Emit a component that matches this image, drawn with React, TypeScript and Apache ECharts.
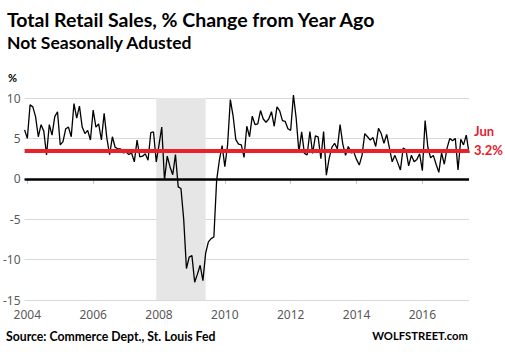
import React, { useEffect, useRef } from "react";
import * as echarts from "echarts";

// Monthly, Dec 2003 .. Jun 2017
const startYear = 2003;
const startMonth = 12;
const endYear = 2017;
const endMonth = 6;

const months: string[] = [];
for (let y = startYear, m = startMonth; y < endYear || (y === endYear && m <= endMonth); ) {
  months.push(`${y}-${m < 10 ? "0" + m : m}`);
  m++;
  if (m > 12) { m = 1; y++; }
}

// % change from year ago, not seasonally adjusted
const yoy2003to2007 = [
  6.05, // Dec 2003
  5.0, 9.15, 8.9, 7.7, 5.2, 6.7, 5.9, 2.95, 6.7, 5.4, 7.7, 8.3, // 2004
  4.2, 4.6, 6.2, 6.4, 5.2, 9.3, 7.5, 9.0, 6.4, 5.6, 6.0, 4.8, // 2005
  8.5, 6.4, 6.8, 4.8, 8.1, 5.0, 3.0, 5.2, 3.9, 3.7, 3.7, 3.2, // 2006
  3.3, 3.0, 3.2, 2.1, 4.8, 2.7, 2.8, 3.1, 2.3, 5.7, 5.8, 2.1, // 2007
];
const yoy2008to2011 = [
  4.2, 6.4, -0.15, 2.8, 1.5, 0.5, 3.0, -1.0, -1.2, -5.0, -11.1, -9.7, // 2008
  -9.5, -12.8, -11.8, -10.7, -12.6, -9.2, -7.8, -7.4, -7.2, -0.2, 2.3, 4.1, // 2009
  1.5, 4.2, 9.8, 7.8, 4.85, 4.3, 4.2, 2.65, 6.5, 5.2, 7.75, 6.7, // 2010
  6.8, 8.45, 7.4, 7.0, 7.4, 8.3, 6.5, 8.9, 8.4, 7.2, 7.1, 6.2, // 2011
];
const yoy2012to2017 = [
  6.0, 10.35, 7.5, 3.3, 5.8, 3.15, 2.95, 5.85, 3.15, 5.3, 5.2, 2.5, // 2012
  5.85, 0.45, 2.5, 3.9, 4.4, 3.7, 6.7, 4.3, 2.9, 4.0, 3.2, 3.3, // 2013
  2.4, 1.7, 2.9, 5.6, 5.2, 4.8, 5.1, 4.0, 6.25, 5.6, 4.4, 5.5, // 2014
  3.8, 2.1, 2.9, 2.0, 1.1, 3.8, 3.6, 1.6, 2.9, 2.1, 2.4, 3.1, // 2015
  1.0, 7.2, 3.9, 2.6, 2.9, 1.8, 0.8, 3.2, 1.8, 3.8, 5.0, 4.7, // 2016
  5.0, 1.1, 4.9, 4.2, 5.4, 3.2, // 2017
];
const retailYoY = [...yoy2003to2007, ...yoy2008to2011, ...yoy2012to2017];

const recession = ["2007-12", "2009-06"];
const latestLevel = 3.5;
const latestLabel = ["Jun", "3.2%"];
const yTicks = { min: -15, max: 10, interval: 5 };

const title = "Total Retail Sales, % Change from Year Ago";
const subtitle = "Not Seasonally Adusted";
const source = "Source: Commerce Dept., St. Louis Fed";
const brand = "WOLFSTREET.com";

const RED = "#e8212b";
const FONT = "Lato, 'Noto Sans', sans-serif";

function isTickMonth(v: string) {
  const y = parseInt(v.slice(0, 4), 10);
  return v.slice(5) === "01" && y % 2 === 0;
}

// pick a font size so the text spans about the reference width
function fitSize(text: string, targetWidth: number, base: number, lo: number, hi: number) {
  try {
    const c = document.createElement("canvas").getContext("2d");
    if (!c) return base;
    c.font = `bold ${base}px ${FONT}`;
    const w = c.measureText(text).width;
    if (!w) return base;
    const s = (base * targetWidth) / w;
    return Math.max(lo, Math.min(hi, Math.round(s * 4) / 4));
  } catch (e) {
    return base;
  }
}

export default function App() {
  const ref = useRef<HTMLDivElement>(null);
  useEffect(() => {
    if (!ref.current) return;
    const titleSize = fitSize(title, 370, 19, 17, 21);
    const subSize = fitSize(subtitle, 186, 17, 15, 19);
    const srcSize = fitSize(source, 211, 12.5, 11, 14);
    const brandSize = fitSize(brand, 95, 12.5, 11, 14);
    const chart = echarts.init(ref.current, undefined, { renderer: "svg" });
    chart.setOption({
      animation: false,
      backgroundColor: "#ffffff",
      grid: { left: 22, right: 36, top: 98, bottom: 60, containLabel: false },
      xAxis: {
        type: "category",
        data: months,
        boundaryGap: false,
        axisLine: { show: true, lineStyle: { color: "#b4c0d4", width: 1 } },
        axisTick: {
          show: true,
          length: 5,
          interval: (i: number, v: string) => isTickMonth(v),
          lineStyle: { color: "#b4c0d4" },
        },
        axisLabel: {
          interval: (i: number, v: string) => isTickMonth(v),
          formatter: (v: string) => v.slice(0, 4),
          color: "#595959",
          fontSize: 12,
          fontFamily: "'Noto Sans', sans-serif",
          margin: 8,
        },
        splitLine: { show: false },
      },
      yAxis: {
        type: "value",
        min: yTicks.min,
        max: yTicks.max,
        interval: yTicks.interval,
        axisLine: { show: false },
        axisTick: { show: false },
        axisLabel: {
          color: "#595959",
          fontSize: 12,
          fontFamily: "'Noto Sans', sans-serif",
          margin: 4,
        },
        splitLine: { show: true, lineStyle: { color: "#d9d9d9", width: 1 } },
      },
      series: [
        {
          type: "line",
          data: retailYoY,
          showSymbol: false,
          symbol: "none",
          clip: false,
          lineStyle: { color: "#000000", width: 1.3 },
          markArea: {
            silent: true,
            itemStyle: { color: "#e6e6e6" },
            data: [[{ xAxis: recession[0] }, { xAxis: recession[1] }]],
          },
          markLine: {
            silent: true,
            symbol: "none",
            label: { show: false },
            data: [
              { yAxis: 0, lineStyle: { color: "#000000", width: 2.5, type: "solid" } },
              { yAxis: latestLevel, lineStyle: { color: RED, width: 4, type: "solid" } },
            ],
          },
          z: 3,
        },
      ],
      graphic: [
        {
          type: "text",
          left: 7,
          top: 9,
          style: { text: title, font: `bold ${titleSize}px ${FONT}`, fill: "#000" },
        },
        {
          type: "text",
          left: 7,
          top: 33,
          style: { text: subtitle, font: `bold ${subSize}px ${FONT}`, fill: "#000" },
        },
        {
          type: "text",
          left: 8,
          top: 72,
          style: { text: "%", font: `bold 11px ${FONT}`, fill: "#000" },
        },
        {
          type: "text",
          left: 474,
          top: 124,
          style: { text: latestLabel[0], font: `bold 13px ${FONT}`, fill: RED },
        },
        {
          type: "text",
          left: 474,
          top: 143,
          style: { text: latestLabel[1], font: `bold 13px ${FONT}`, fill: RED },
        },
        {
          type: "text",
          left: 6,
          top: 330,
          style: { text: source, font: `bold ${srcSize}px ${FONT}`, fill: "#000" },
        },
        {
          type: "text",
          right: 37,
          top: 330,
          style: { text: brand, font: `bold ${brandSize}px ${FONT}`, fill: "#000" },
        },
      ],
    });
    return () => chart.dispose();
  }, []);
  return <div ref={ref} style={{ width: 505, height: 360, position: "absolute", left: 0, top: 0 }} />;
}
